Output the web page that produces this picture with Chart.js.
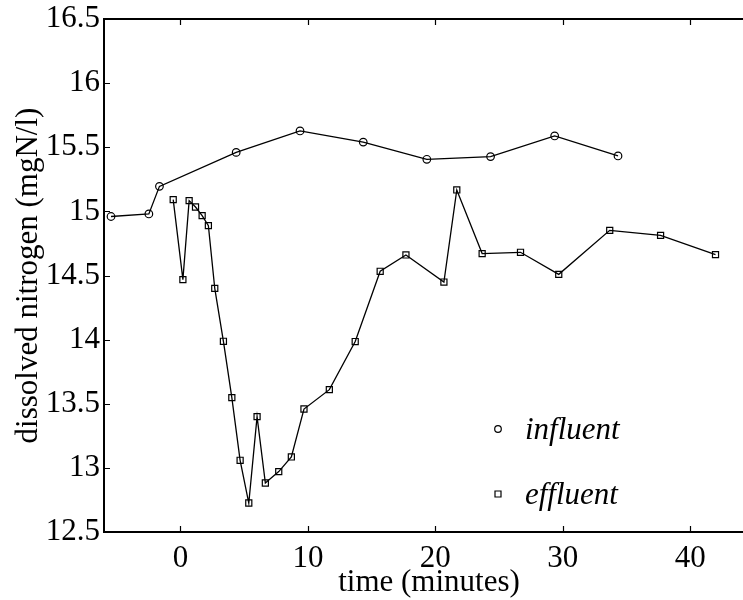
<!DOCTYPE html>
<html>
<head>
<meta charset="utf-8">
<script src="https://cdn.jsdelivr.net/npm/chart.js@4.4.0/dist/chart.umd.min.js"></script>
<style>
  html, body { margin: 0; padding: 0; background: #fff; overflow: hidden; }
  #wrap { width: 760px; height: 600px; }
</style>
</head>
<body>
<div id="wrap"><canvas id="chart" width="760" height="600"></canvas></div>
<script>
// values
var influentTime = [-5.45, -2.48, -1.65, 4.37, 9.38, 14.34, 19.33, 24.33, 29.36, 34.33];
var influentN    = [14.96, 14.98, 15.195, 15.46, 15.627, 15.54, 15.406, 15.427, 15.588, 15.432];

var effluentTime = [-0.57, 0.19, 0.68, 1.18, 1.70, 2.19, 2.69, 3.37, 4.03, 4.68, 5.36, 6.01, 6.66, 7.71,
                    8.70, 9.69, 11.68, 13.71, 15.67, 17.69, 20.67, 21.68, 23.67, 26.68, 29.68, 33.68, 37.67, 41.98];
var effluentN    = [15.092, 14.468, 15.084, 15.034, 14.967, 14.889, 14.40, 13.987, 13.548, 13.059, 12.726, 13.40, 12.882, 12.971,
                    13.085, 13.459, 13.61, 13.985, 14.533, 14.66, 14.449, 15.167, 14.671, 14.681, 14.509, 14.852, 14.813, 14.663];

var xTicks = [0, 10, 20, 30, 40];
var yTicks = [12.5, 13, 13.5, 14, 14.5, 15, 15.5, 16, 16.5];

var serif = '"Liberation Serif", "Times New Roman", serif';

function toPoints(xs, ys) {
	var out = [];
	for (var i = 0; i < xs.length; i++) out.push({x: xs[i], y: ys[i]});
	return out;
}

function noPadding(scale) {
	scale.paddingLeft = 0;
	scale.paddingRight = 0;
	scale.paddingTop = 0;
	scale.paddingBottom = 0;
}

// box round the plot with inward ticks, like the old matlab axes
var framePlugin = {
	id: 'frame',
	afterDatasetsDraw: function(chart) {
		var ctx = chart.ctx, a = chart.chartArea;
		var sx = chart.scales.x, sy = chart.scales.y;
		var tl = 6;
		ctx.save();
		ctx.strokeStyle = '#000';
		ctx.lineWidth = 1.2;
		ctx.beginPath();
		xTicks.forEach(function(v) {
			var px = Math.round(sx.getPixelForValue(v)) + 0.5;
			ctx.moveTo(px, a.bottom); ctx.lineTo(px, a.bottom - tl);
			ctx.moveTo(px, a.top); ctx.lineTo(px, a.top + tl);
		});
		yTicks.forEach(function(v) {
			var py = Math.round(sy.getPixelForValue(v)) + 0.5;
			ctx.moveTo(a.left, py); ctx.lineTo(a.left + tl, py);
			ctx.moveTo(a.right, py); ctx.lineTo(a.right - tl, py);
		});
		ctx.stroke();
		ctx.lineWidth = 2;
		ctx.strokeRect(a.left, a.top, a.right - a.left, a.bottom - a.top);
		ctx.restore();
	}
};

// legend sitting inside the plot, markers then italic names
var legendPlugin = {
	id: 'boxLegend',
	afterDraw: function(chart) {
		var ctx = chart.ctx;
		var rows = [{mx: 498, my: 429, tx: 525, ty: 439}, {mx: 498, my: 494, tx: 525, ty: 504}];
		ctx.save();
		chart.data.datasets.forEach(function(ds, i) {
			var r = rows[i];
			ctx.strokeStyle = '#000';
			ctx.lineWidth = 1.2;
			ctx.beginPath();
			if (ds.pointStyle == 'circle') {
				ctx.arc(r.mx, r.my, 3.3, 0, Math.PI * 2);
			} else {
				ctx.rect(r.mx - 3, r.my - 3, 6, 6);
			}
			ctx.stroke();
			ctx.fillStyle = '#000';
			ctx.font = 'italic 31px ' + serif;
			ctx.textAlign = 'left';
			ctx.textBaseline = 'alphabetic';
			ctx.fillText(ds.label, r.tx, r.ty);
		});
		ctx.restore();
	}
};

var ctx = document.getElementById('chart').getContext('2d');
window.chart = new Chart(ctx, {
	type: 'line',
	data: {
		datasets: [{
			label: 'influent',
			data: toPoints(influentTime, influentN),
			borderColor: '#000',
			borderWidth: 1.3,
			pointStyle: 'circle',
			pointRadius: 3.8,
			pointBorderWidth: 1.2,
			pointBorderColor: '#000',
			pointBackgroundColor: 'rgba(0,0,0,0)',
			tension: 0,
			fill: false
		}, {
			label: 'effluent',
			data: toPoints(effluentTime, effluentN),
			borderColor: '#000',
			borderWidth: 1.3,
			pointStyle: 'rect',
			pointRadius: 4.3,
			pointBorderWidth: 1.2,
			pointBorderColor: '#000',
			pointBackgroundColor: 'rgba(0,0,0,0)',
			tension: 0,
			fill: false
		}]
	},
	options: {
		responsive: false,
		animation: false,
		layout: { padding: { left: 0, top: 19, right: 6, bottom: 0 } },
		plugins: {
			legend: { display: false },
			tooltip: { enabled: false }
		},
		scales: {
			x: {
				type: 'linear',
				min: -6,
				max: 45,
				border: { display: false },
				grid: { display: false, drawTicks: false },
				ticks: {
					color: '#000',
					font: { family: serif, size: 31 },
					padding: 8,
					maxRotation: 0,
					callback: function(v) { return String(v); }
				},
				afterBuildTicks: function(scale) {
					scale.ticks = xTicks.map(function(v) { return {value: v}; });
				},
				afterFit: function(scale) {
					scale.height = 68;
					noPadding(scale);
				},
				title: {
					display: true,
					text: 'time (minutes)',
					color: '#000',
					font: { family: serif, size: 31, lineHeight: 1.1 },
					padding: 0
				}
			},
			y: {
				type: 'linear',
				min: 12.5,
				max: 16.5,
				border: { display: false },
				grid: { display: false, drawTicks: false },
				ticks: {
					color: '#000',
					font: { family: serif, size: 31 },
					padding: 4,
					callback: function(v) { return String(v); }
				},
				afterBuildTicks: function(scale) {
					scale.ticks = yTicks.map(function(v) { return {value: v}; });
				},
				afterFit: function(scale) {
					scale.width = 104;
					noPadding(scale);
				},
				title: {
					display: true,
					text: 'dissolved nitrogen (mgN/l)',
					color: '#000',
					font: { family: serif, size: 31, lineHeight: 1.1 },
					padding: { top: 12, bottom: 0 }
				}
			}
		}
	},
	plugins: [framePlugin, legendPlugin]
});
</script>
</body>
</html>
